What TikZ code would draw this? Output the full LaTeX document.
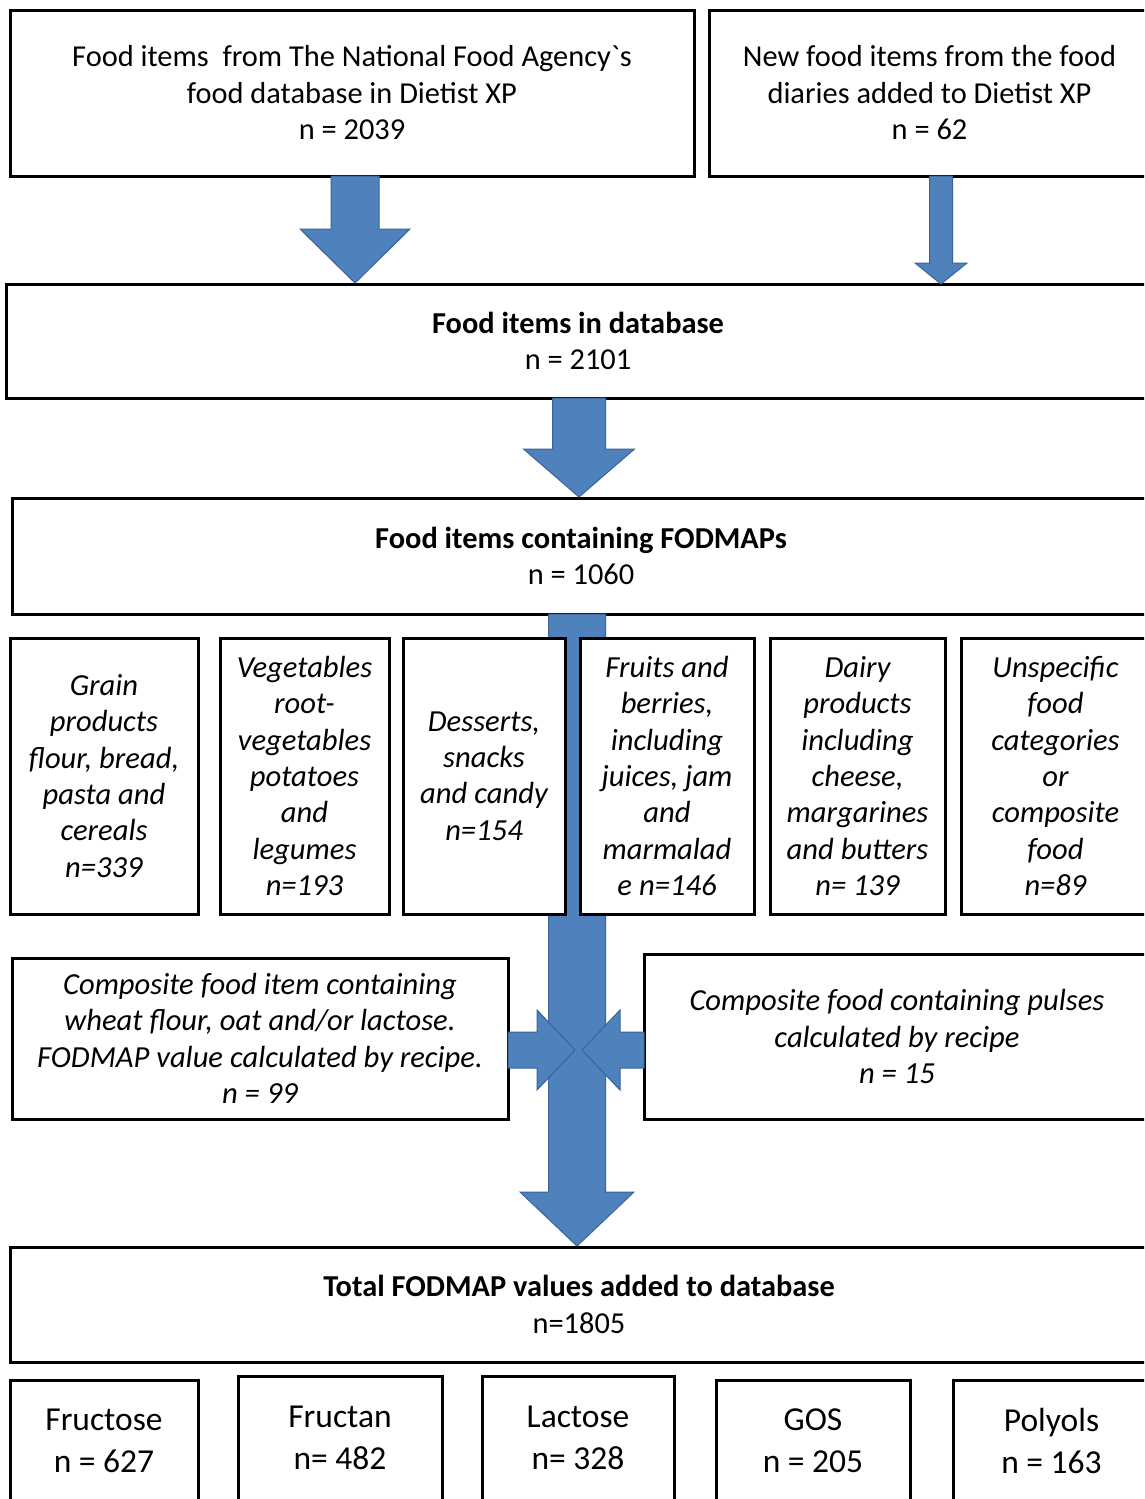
\documentclass[tikz,border=0pt]{standalone}
\usepackage{fontspec}
\setmainfont{Carlito}
\usetikzlibrary{calc}
\definecolor{arrowfill}{HTML}{4F81BD}
\definecolor{arrowline}{HTML}{3A6496}
\tikzset{
  box/.style={draw=black, line width=3pt, fill=white, align=center, inner sep=0pt,
    font=\fontsize{30.4}{36.5}\selectfont},
  catbox/.style={box, font=\fontsize{30.6}{36.3}\selectfont\itshape},
  fodbox/.style={box, font=\fontsize{33.5}{42}\selectfont},
  blockarrow/.style={fill=arrowfill, draw=arrowline, line width=1pt, line join=miter},
}
% down block arrow: #1 top, #2 tip, #3 shaft half width, #4 head half width, #5 head length
\newcommand\downblock[5]{%
  \filldraw[blockarrow] ($(#1)+(-#3,0)$) -- ($(#2)+(-#3,-#5)$) -- ($(#2)+(-#4,-#5)$) -- (#2)
    -- ($(#2)+(#4,-#5)$) -- ($(#2)+(#3,-#5)$) -- ($(#1)+(#3,0)$) -- cycle;}
% horizontal block arrow: #1 start, #2 tip, #3 shaft half, #4 head half, #5 head length (signed)
\newcommand\sideblock[5]{%
  \filldraw[blockarrow] ($(#1)+(0,-#3)$) -- ($(#2)+(-#5,-#3)$) -- ($(#2)+(-#5,-#4)$) -- (#2)
    -- ($(#2)+(-#5,#4)$) -- ($(#2)+(-#5,#3)$) -- ($(#1)+(0,#3)$) -- cycle;}
\begin{document}
\begin{tikzpicture}[x=1pt,y=-1pt]
\clip (0,0) rectangle (1144,1499);
\fill[white] (0,0) rectangle (1144,1499);

% top boxes
\node[box, minimum width=684pt, minimum height=166pt] (src1) at (352,93)
  {Food items~ from The National Food Agency\textasciigrave s\\food database in Dietist XP\\n = 2039};
\node[box, minimum width=441pt, minimum height=166pt] (src2) at (929.5,93)
  {New food items from the food\\diaries added to Dietist XP\\n = 62};
\node[box, minimum width=1144pt, minimum height=114pt] (db) at (578,341)
  {\textbf{Food items in database}\\n = 2101};
\node[box, minimum width=1138pt, minimum height=116pt] (fod) at (581,556)
  {\textbf{Food items containing FODMAPs}\\n = 1060};

% arrows into database
\coordinate (a1s) at (355,176); \coordinate (a1e) at (355,283);
\downblock{a1s}{a1e}{24}{55}{54}
\coordinate (a2s) at (941,176); \coordinate (a2e) at (941,284);
\downblock{a2s}{a2e}{11.5}{26}{21}
\coordinate (a3s) at (579,398); \coordinate (a3e) at (579,497);
\downblock{a3s}{a3e}{26.5}{55.5}{48}

% long arrow down to total
\coordinate (a4s) at (577,614); \coordinate (a4e) at (577,1246);
\downblock{a4s}{a4e}{28.5}{57}{54}

% categories
\node[catbox, minimum width=188pt, minimum height=276pt] (grain) at (104,776)
  {Grain\\products\\flour, bread,\\pasta and\\cereals\\n=339};
\node[catbox, minimum width=169pt, minimum height=276pt] (veg) at (304.5,776)
  {Vegetables\\root-\\vegetables\\potatoes\\and\\legumes\\n=193};
\node[catbox, minimum width=162pt, minimum height=276pt] (dess) at (484,776)
  {Desserts,\\snacks\\and candy\\n=154};
\node[catbox, minimum width=174pt, minimum height=276pt] (fruit) at (667,776)
  {Fruits and\\berries,\\including\\juices, jam\\and\\marmalad\\e n=146};
\node[catbox, minimum width=175pt, minimum height=276pt] (dairy) at (857.5,776)
  {Dairy\\products\\including\\cheese,\\margarines\\and butters\\n= 139};
\node[catbox, minimum width=189pt, minimum height=276pt] (unsp) at (1055.5,776)
  {Unspecific\\food\\categories\\or\\composite\\food\\n=89};

% composite boxes
\node[catbox, minimum width=496pt, minimum height=161pt] (compL) at (260,1038.5)
  {Composite food item containing\\wheat flour, oat and/or lactose.\\FODMAP value calculated by recipe.\\n = 99};
\node[catbox, minimum width=506pt, minimum height=165pt] (compR) at (897,1036.5)
  {Composite food containing pulses\\calculated by recipe\\n = 15};

% side arrows
\coordinate (sLs) at (508,1050); \coordinate (sLe) at (575,1050);
\sideblock{sLs}{sLe}{18}{40}{38}
\coordinate (sRs) at (644,1050); \coordinate (sRe) at (582,1050);
\sideblock{sRs}{sRe}{18}{40}{-38}

% total
\node[box, minimum width=1138pt, minimum height=115pt] (total) at (579,1304.5)
  {\textbf{Total FODMAP values added to database}\\n=1805};

% FODMAP types
\node[fodbox, minimum width=188pt, minimum height=122pt] (fructose) at (104,1441)
  {Fructose\\n = 627};
\node[fodbox, minimum width=204pt, minimum height=124pt] (fructan) at (340,1438)
  {Fructan\\n= 482};
\node[fodbox, minimum width=192pt, minimum height=124pt] (lactose) at (578,1438)
  {Lactose\\n= 328};
\node[fodbox, minimum width=194pt, minimum height=122pt] (gos) at (813,1441)
  {GOS\\n = 205};
\node[fodbox, minimum width=197pt, minimum height=122pt] (polyols) at (1051.5,1441)
  {Polyols\\n = 163};
\end{tikzpicture}
\end{document}
